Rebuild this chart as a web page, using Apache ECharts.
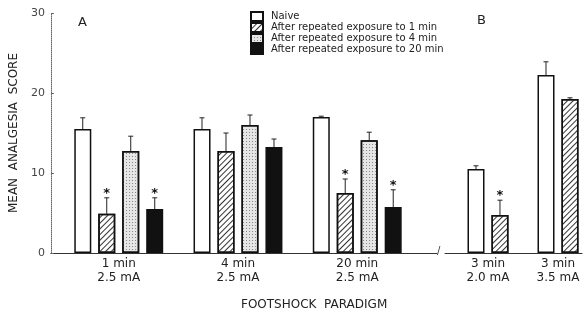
<!DOCTYPE html>
<html>
<head>
<meta charset="utf-8">
<script src="https://cdn.jsdelivr.net/npm/echarts@6/dist/echarts.min.js"></script>
<style>
html, body { margin: 0; padding: 0; background: #fff; }
#chart { width: 585px; height: 313px; }
</style>
</head>
<body>
<div id="chart"></div>
<script>
// panel A: three paradigms at 2.5 mA, panel B: 3 min at two currents
var groups_a = ['1 min\n2.5 mA', '4 min\n2.5 mA', '20 min\n2.5 mA'];
var groups_b = ['3 min\n2.0 mA', '3 min\n3.5 mA'];
var legend_names = [
  'Naive',
  'After repeated exposure to 1 min',
  'After repeated exposure to 4 min',
  'After repeated exposure to 20 min'
];

var naive_a = [15.5, 15.5, 17.0];
var naive_a_err = [16.9, 16.9, 17.1];
var exp1_a = [4.9, 12.75, 7.5];
var exp1_a_err = [6.9, 15.0, 9.25];
var exp1_a_sig = [1, 0, 1];
var exp4_a = [12.75, 16.0, 14.1];
var exp4_a_err = [14.6, 17.25, 15.1];
var exp20_a = [5.5, 13.25, 5.75];
var exp20_a_err = [6.9, 14.25, 7.9];
var exp20_a_sig = [1, 0, 1];

var naive_b = [10.5, 22.25];
var naive_b_err = [10.9, 23.9];
var exp1_b = [4.75, 19.25];
var exp1_b_err = [6.6, 19.4];
var exp1_b_sig = [1, 0];

var y_ticks = [0, 10, 20, 30];

var FONT = 'DejaVu Sans';
var BAR_W = 17;
var PITCH = 24;

var bar_styles = [
  { color: '#fff', borderColor: '#111', borderWidth: 1.5 },
  { color: '#fff', borderColor: '#111', borderWidth: 1.5,
    decal: { symbol: 'rect', symbolSize: 1, dashArrayX: [1, 0], dashArrayY: [1, 2.5], rotation: -Math.PI / 4, color: '#333' } },
  { color: '#e6e6e6', borderColor: '#111', borderWidth: 1.5,
    decal: { symbol: 'rect', symbolSize: 1, dashArrayX: [1, 2], dashArrayY: [1, 2], color: '#888' } },
  { color: '#111', borderColor: '#111', borderWidth: 1.5 }
];

function bar_series(k, values, axis) {
  return {
    name: legend_names[k],
    type: 'bar',
    xAxisIndex: axis,
    yAxisIndex: axis,
    barWidth: BAR_W,
    barGap: '41%',
    itemStyle: bar_styles[k],
    silent: true,
    animation: false,
    data: values.map(function (v, i) { return [i, v]; })
  };
}

// rows: [group, slot, slots in group, mean, error top, significant]
function error_rows(slot, count, means, tops, sig) {
  return means.map(function (m, i) {
    return [i, slot, count, m, tops[i], sig ? sig[i] : 0];
  });
}

function error_series(axis, rows) {
  return {
    type: 'custom',
    xAxisIndex: axis,
    yAxisIndex: axis,
    silent: true,
    animation: false,
    encode: { x: 0, y: 4 },
    data: rows,
    renderItem: function (params, api) {
      var n = api.value(2);
      var off = (api.value(1) - (n - 1) / 2) * PITCH;
      var low = api.coord([api.value(0), api.value(3)]);
      var high = api.coord([api.value(0), api.value(4)]);
      var x = low[0] + off;
      var kids = [
        { type: 'line', shape: { x1: x, y1: low[1], x2: x, y2: high[1] }, style: { stroke: '#222', lineWidth: 1 } },
        { type: 'line', shape: { x1: x - 2.5, y1: high[1], x2: x + 2.5, y2: high[1] }, style: { stroke: '#222', lineWidth: 1 } }
      ];
      if (api.value(5)) {
        kids.push({ type: 'text', style: { text: '*', x: x, y: high[1] + 2, align: 'center', verticalAlign: 'bottom', font: 'bold 13px ' + FONT, fill: '#111' } });
      }
      return { type: 'group', children: kids };
    }
  };
}

function x_axis(grid, min, max, labels) {
  return {
    type: 'value',
    gridIndex: grid,
    min: min,
    max: max,
    splitLine: { show: false },
    axisTick: { show: false },
    axisLine: { onZero: false, lineStyle: { color: '#333', width: 1 } },
    axisLabel: {
      customValues: labels.map(function (l, i) { return i; }),
      formatter: function (v) { return labels[Math.round(v)]; },
      fontFamily: FONT,
      fontSize: 12,
      lineHeight: 14,
      color: '#222',
      margin: 4
    }
  };
}

var chartDom = document.getElementById('chart');
var myChart = echarts.init(chartDom);
var option;

option = {
  backgroundColor: '#fff',
  animation: false,
  title: [
    { text: 'A', left: 73, top: 11, textStyle: { fontFamily: FONT, fontSize: 13, fontWeight: 'normal', color: '#222' } },
    { text: 'B', left: 472, top: 9, textStyle: { fontFamily: FONT, fontSize: 13, fontWeight: 'normal', color: '#222' } },
    { text: 'FOOTSHOCK  PARADIGM', left: 236, top: 294, textStyle: { fontFamily: FONT, fontSize: 12, fontWeight: 'normal', color: '#222' } }
  ],
  legend: {
    data: legend_names,
    orient: 'vertical',
    left: 245,
    top: 6,
    icon: 'rect',
    itemWidth: 12,
    itemHeight: 9,
    itemGap: 0,
    selectedMode: false,
    textStyle: { fontFamily: FONT, fontSize: 10, lineHeight: 11, color: '#222', padding: [0, 0, 0, 3] }
  },
  grid: [
    { left: 50, right: 148, top: 13, bottom: 60 },
    { left: 445, right: 3, top: 13, bottom: 60 }
  ],
  xAxis: [
    x_axis(0, -0.569, 2.669, groups_a),
    x_axis(1, -0.614, 1.343, groups_b)
  ],
  yAxis: [
    {
      type: 'value',
      gridIndex: 0,
      min: y_ticks[0],
      max: y_ticks[y_ticks.length - 1],
      interval: 10,
      splitLine: { show: false },
      axisLine: { show: true, onZero: false, lineStyle: { color: '#666', type: 'dotted', width: 1 } },
      axisTick: { show: true, inside: true, length: 3, lineStyle: { color: '#666' } },
      axisLabel: { fontFamily: FONT, fontSize: 11, color: '#444', margin: 6 },
      name: 'MEAN  ANALGESIA  SCORE',
      nameLocation: 'middle',
      nameGap: 30,
      nameTextStyle: { fontFamily: FONT, fontSize: 12, color: '#222' }
    },
    {
      type: 'value',
      gridIndex: 1,
      min: y_ticks[0],
      max: y_ticks[y_ticks.length - 1],
      show: false
    }
  ],
  graphic: [
    { type: 'text', left: 437, top: 246, style: { text: '/', font: '10px ' + FONT, fill: '#333' } }
  ],
  series: [
    bar_series(0, naive_a, 0),
    bar_series(1, exp1_a, 0),
    bar_series(2, exp4_a, 0),
    bar_series(3, exp20_a, 0),
    bar_series(0, naive_b, 1),
    bar_series(1, exp1_b, 1),
    error_series(0, []
      .concat(error_rows(0, 4, naive_a, naive_a_err))
      .concat(error_rows(1, 4, exp1_a, exp1_a_err, exp1_a_sig))
      .concat(error_rows(2, 4, exp4_a, exp4_a_err))
      .concat(error_rows(3, 4, exp20_a, exp20_a_err, exp20_a_sig))),
    error_series(1, []
      .concat(error_rows(0, 2, naive_b, naive_b_err))
      .concat(error_rows(1, 2, exp1_b, exp1_b_err, exp1_b_sig)))
  ]
};

option && myChart.setOption(option);
</script>
</body>
</html>
